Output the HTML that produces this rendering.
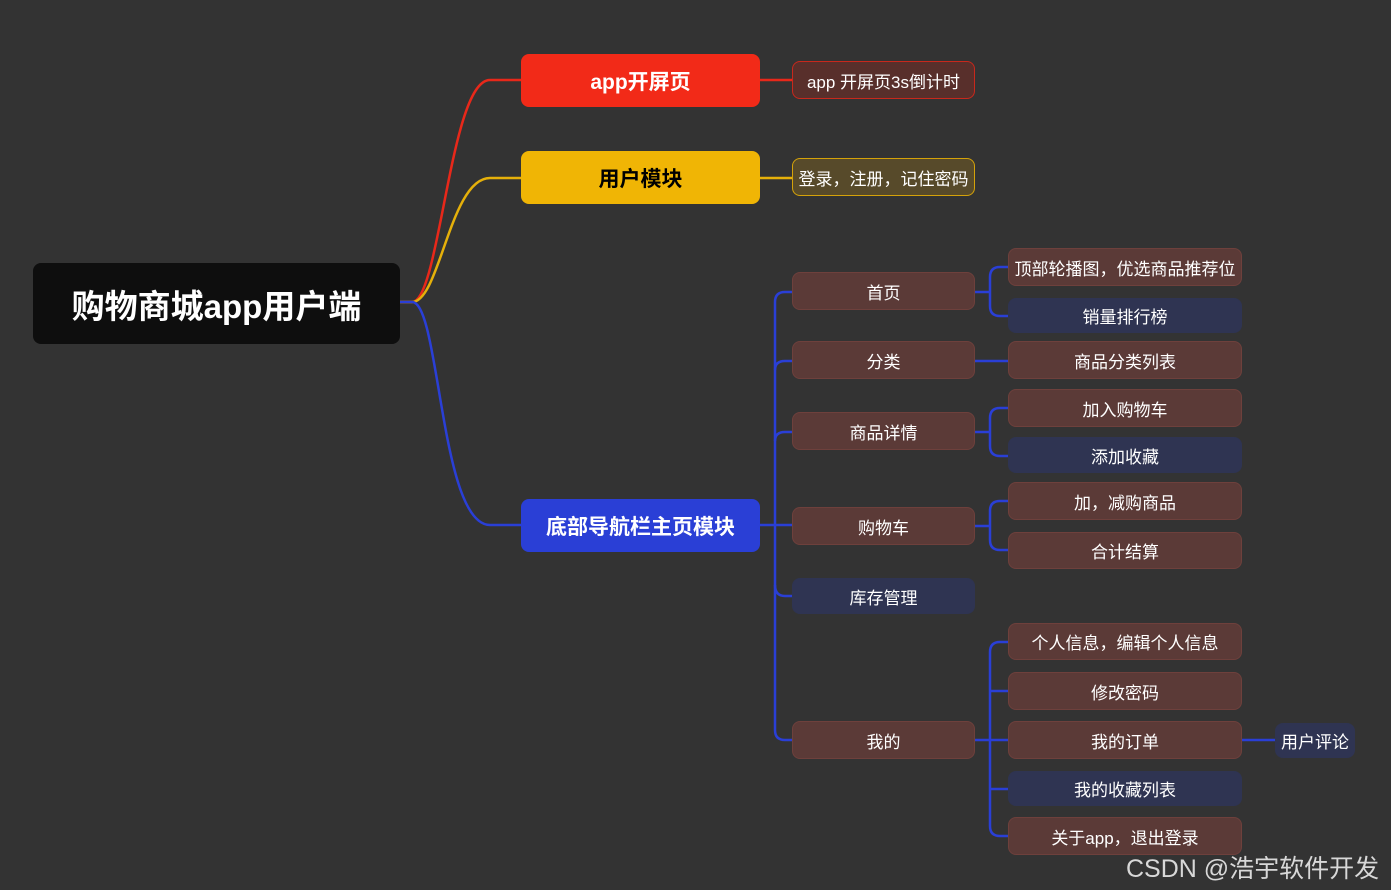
<!DOCTYPE html>
<html><head><meta charset="utf-8"><style>
body{margin:0;width:1391px;height:890px;background:#333333;position:relative;overflow:hidden;font-family:"Liberation Sans","Noto Sans CJK SC",sans-serif;}
.n{position:absolute;display:flex;align-items:center;justify-content:center;color:#fff;box-sizing:border-box;border-radius:8px;font-size:17px;white-space:nowrap}
.b{background:#5b3a37;border:1px solid #6e403c}
.v{background:#2f3452;border:1px solid #2f3452}
svg{position:absolute;left:0;top:0}
</style></head><body>
<svg width="1391" height="890" fill="none" stroke-width="2.5">
<path d="M400 302 H412 C440 302 450 80 490 80 H521" stroke="#e8281a"/>
<path d="M400 302 H412 C440 302 450 178 490 178 H521" stroke="#e5b00a"/>
<path d="M400 302 H412 C440 302 440 525 490 525 H521" stroke="#2a3fd6"/>
<path d="M760 80 H792" stroke="#e8281a"/>
<path d="M760 178 H792" stroke="#e5b00a"/>
<g stroke="#2a3fd6">
<path d="M760 525 H792"/>
<path d="M792 292 H785 Q775 292 775 302 V730 Q775 740 785 740 H792"/>
<path d="M775 370 Q775 361 785 361 H792"/>
<path d="M775 441 Q775 432 785 432 H792"/>
<path d="M775 585 Q775 596 785 596 H792"/>
<path d="M975 292 H990"/><path d="M1008 267 H1000 Q990 267 990 277 V306 Q990 316 1000 316 H1008"/>
<path d="M975 361 H1008"/>
<path d="M975 432 H990"/><path d="M1008 408 H1000 Q990 408 990 418 V446 Q990 456 1000 456 H1008"/>
<path d="M975 526 H990"/><path d="M1008 501 H1000 Q990 501 990 511 V540 Q990 550 1000 550 H1008"/>
<path d="M975 740 H1008"/><path d="M1008 642 H1000 Q990 642 990 652 V826 Q990 836 1000 836 H1008"/>
<path d="M990 691 H1008"/><path d="M990 789 H1008"/>
<path d="M1242 740 H1275"/>
</g>
</svg>
<div class="n" style="left:33px;top:263px;width:367px;height:81px;background:#0e0e0e;font-size:33px;font-weight:bold">购物商城app用户端</div>
<div class="n" style="left:521px;top:54px;width:239px;height:53px;background:#f22a18;font-size:21px;font-weight:bold">app开屏页</div>
<div class="n" style="left:521px;top:151px;width:239px;height:53px;background:#f0b505;color:#000;font-size:21px;font-weight:bold">用户模块</div>
<div class="n" style="left:521px;top:499px;width:239px;height:53px;background:#2a3fd6;font-size:21px;font-weight:bold">底部导航栏主页模块</div>
<div class="n" style="left:792px;top:61px;width:183px;height:38px;background:#582f2b;border:1px solid #c8281c">app 开屏页3s倒计时</div>
<div class="n" style="left:792px;top:158px;width:183px;height:38px;background:#574a2a;border:1px solid #d4a20a">登录，注册，记住密码</div>
<div class="n b" style="left:792px;top:272px;width:183px;height:38px">首页</div>
<div class="n b" style="left:792px;top:341px;width:183px;height:38px">分类</div>
<div class="n b" style="left:792px;top:412px;width:183px;height:38px">商品详情</div>
<div class="n b" style="left:792px;top:507px;width:183px;height:38px">购物车</div>
<div class="n v" style="left:792px;top:578px;width:183px;height:36px">库存管理</div>
<div class="n b" style="left:792px;top:721px;width:183px;height:38px">我的</div>
<div class="n b" style="left:1008px;top:248px;width:234px;height:38px">顶部轮播图，优选商品推荐位</div>
<div class="n v" style="left:1008px;top:298px;width:234px;height:35px">销量排行榜</div>
<div class="n b" style="left:1008px;top:341px;width:234px;height:38px">商品分类列表</div>
<div class="n b" style="left:1008px;top:389px;width:234px;height:38px">加入购物车</div>
<div class="n v" style="left:1008px;top:437px;width:234px;height:36px">添加收藏</div>
<div class="n b" style="left:1008px;top:482px;width:234px;height:38px">加，减购商品</div>
<div class="n b" style="left:1008px;top:532px;width:234px;height:37px">合计结算</div>
<div class="n b" style="left:1008px;top:623px;width:234px;height:37px">个人信息，编辑个人信息</div>
<div class="n b" style="left:1008px;top:672px;width:234px;height:38px">修改密码</div>
<div class="n b" style="left:1008px;top:721px;width:234px;height:38px">我的订单</div>
<div class="n v" style="left:1008px;top:771px;width:234px;height:35px">我的收藏列表</div>
<div class="n b" style="left:1008px;top:817px;width:234px;height:38px">关于app，退出登录</div>
<div class="n v" style="left:1275px;top:723px;width:80px;height:35px">用户评论</div>
<div style="position:absolute;left:1126px;top:849px;color:#d8d8d8;font-size:25px;white-space:nowrap">CSDN @浩宇软件开发</div>
</body></html>
